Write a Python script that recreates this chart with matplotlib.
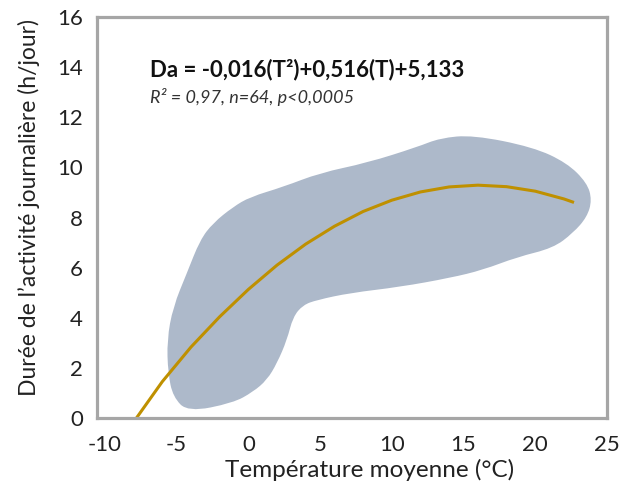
import matplotlib
matplotlib.use('Agg')
import matplotlib.pyplot as plt
from matplotlib.path import Path
from matplotlib.patches import PathPatch

plt.rcParams['font.family'] = ['Lato', 'DejaVu Sans']
plt.rcParams['axes.unicode_minus'] = False
font = 16

# regression curve (Da vs T)
curve_t = [-7.8, -6, -4, -2, 0, 2, 4, 6, 8, 10, 12, 14, 16, 18, 20, 22, 22.7]
curve_da = [0.0, 1.45, 2.83, 4.04, 5.13, 6.10, 6.94, 7.65, 8.24, 8.69, 9.02, 9.22, 9.29, 9.23, 9.05, 8.74, 8.60]

# outline of the shaded data envelope
env_t = [-4.21, -5.25, -5.60, -5.67, -5.25, -4.28, -3.37, -2.46, -1.07, 0.12,
         2.42, 4.99, 8.27, 11.76, 13.36, 15.66, 19.84, 22.21, 23.61, 23.95,
         23.61, 22.63, 21.24, 18.73, 16.36, 14.06, 10.57, 7.09, 4.79, 3.81,
         3.11, 2.69, 2.00, 1.30, 0.32, -1.07]
env_da = [0.24, 0.84, 1.80, 3.11, 4.43, 5.79, 7.10, 7.78, 8.42, 8.82,
          9.22, 9.78, 10.18, 10.81, 11.17, 11.29, 10.81, 10.18, 9.38, 8.70,
          8.02, 7.38, 6.78, 6.42, 5.91, 5.59, 5.23, 4.99, 4.71, 4.51,
          4.03, 3.11, 2.19, 1.52, 1.04, 0.60]

xticks = [-10, -5, 0, 5, 10, 15, 20, 25]
yticks = [0, 2, 4, 6, 8, 10, 12, 14, 16]

fig = plt.figure(figsize=(6.35, 4.88), dpi=100)
ax = fig.add_axes([97 / 635, 70 / 488, 510 / 635, 401 / 488])

# smooth closed outline: read points used as quadratic control points
pts = list(zip(env_t, env_da))
n = len(pts)
mid = lambda a, b: ((a[0] + b[0]) / 2, (a[1] + b[1]) / 2)
verts = [mid(pts[-1], pts[0])]
codes = [Path.MOVETO]
for i in range(n):
    verts += [pts[i], mid(pts[i], pts[(i + 1) % n])]
    codes += [Path.CURVE3, Path.CURVE3]
verts.append(verts[0])
codes.append(Path.CLOSEPOLY)
ax.add_patch(PathPatch(Path(verts, codes), facecolor='#adb9ca', edgecolor='none'))

ax.plot(curve_t, curve_da, color='#bf9000', lw=2.2, solid_capstyle='butt')

ax.set_xlim(-10.55, 25)
ax.set_ylim(0, 16)
ax.set_xticks(xticks)
ax.set_yticks(yticks)
ax.tick_params(length=0, labelsize=font, colors='#222222')
ax.tick_params(axis='x', pad=12)
ax.tick_params(axis='y', pad=10)
for s in ax.spines.values():
    s.set_color('#a6a6a6')
    s.set_linewidth(2.3)

ax.set_xlabel('Température moyenne (°C)', fontsize=17.5, color='#222222', va='center')
ax.xaxis.set_label_coords(0.535, -0.13)
ax.set_ylabel('Durée de l’activité journalière (h/jour)', fontsize=16.5, color='#222222',
              va='center')
ax.yaxis.set_label_coords(-0.133, 0.524)

ax.text(0.104, 0.868, 'Da = -0,016(T²)+0,516(T)+5,133', transform=ax.transAxes,
        fontsize=16, fontweight='bold', va='center', ha='left', color='#111111')
ax.text(0.104, 0.80, 'R² = 0,97, n=64, p<0,0005', transform=ax.transAxes,
        fontsize=13, style='italic', va='center', ha='left', color='#333333')

plt.savefig('out.png', dpi=100)
